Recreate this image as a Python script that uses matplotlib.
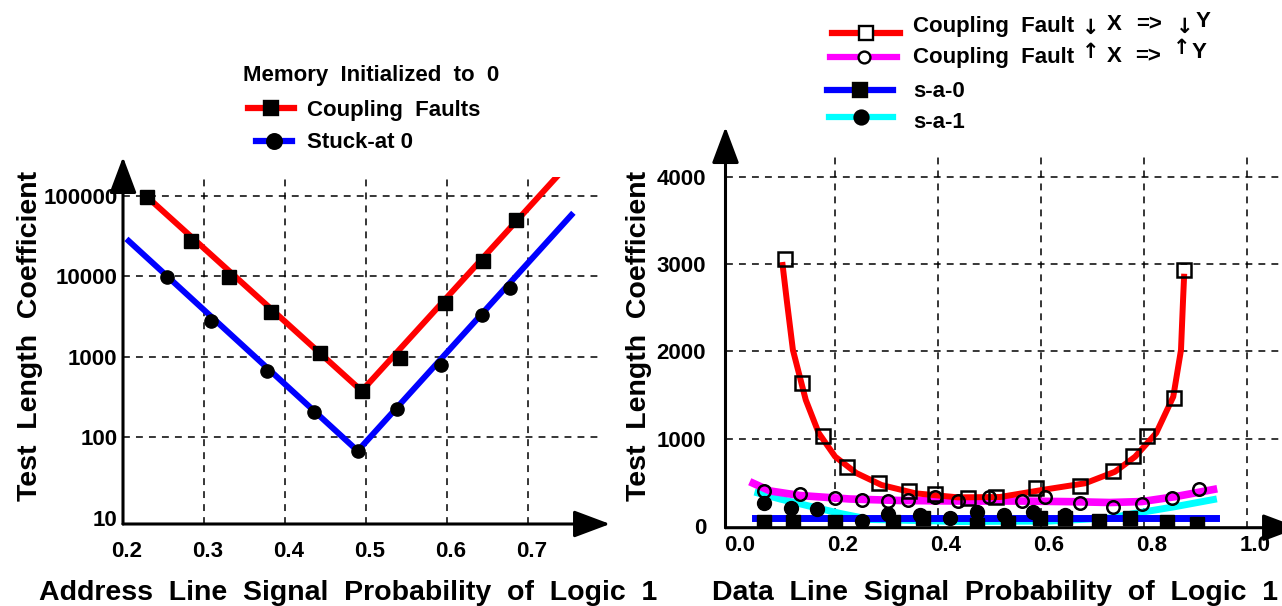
import matplotlib
matplotlib.use("Agg")
import matplotlib.pyplot as plt
from matplotlib.lines import Line2D
from matplotlib.ticker import NullLocator
from matplotlib.transforms import ScaledTranslation

plt.rcParams['font.family'] = ['Liberation Sans', 'DejaVu Sans']
plt.rcParams['font.weight'] = 'bold'

# ---- left panel: address line signal probability (log y) ----
addr_cf_x = [0.230, 0.284, 0.331, 0.383, 0.443, 0.495, 0.542, 0.598, 0.645, 0.686]
addr_cf_y = [96000, 27400, 9800, 3600, 1110, 377, 966, 4650, 15500, 49800]
addr_cf_line_x = [0.230, 0.495, 0.739]
addr_cf_line_y = [96000, 377, 185000]

addr_sa0_x = [0.254, 0.309, 0.378, 0.436, 0.490, 0.539, 0.593, 0.644, 0.678]
addr_sa0_y = [9770, 2780, 667, 206, 68, 225, 791, 3300, 7140]
addr_sa0_line_x = [0.207, 0.490, 0.754]
addr_sa0_line_y = [27400, 68, 57400]

addr_xticks = [0.2, 0.3, 0.4, 0.5, 0.6, 0.7]
addr_xlabels = ['0.2', '0.3', '0.4', '0.5', '0.6', '0.7']
addr_yticks = [10, 100, 1000, 10000, 100000]
addr_ylabels = ['10', '100', '1000', '10000', '100000']
addr_grid_x = [0.3, 0.4, 0.5, 0.6, 0.7]
addr_grid_y = [100, 1000, 10000, 100000]

# ---- right panel: data line signal probability ----
# coupling fault down X => down Y (red curve, open squares)
data_cfd_curve_x = [0.099, 0.107, 0.119, 0.144, 0.169, 0.201, 0.242, 0.291, 0.357, 0.439,
                    0.521, 0.602, 0.686, 0.744, 0.783, 0.824, 0.857, 0.872, 0.876, 0.878]
data_cfd_curve_y = [2989, 2589, 2017, 1445, 1068, 797, 610, 473, 378, 332,
                    336, 416, 493, 625, 797, 1068, 1483, 2017, 2589, 2855]
data_cfd_x = [0.103, 0.136, 0.178, 0.223, 0.287, 0.344, 0.395, 0.459, 0.514, 0.591,
              0.676, 0.740, 0.779, 0.807, 0.859, 0.877]
data_cfd_y = [3058, 1643, 1034, 682, 499, 405, 367, 321, 332, 435,
              465, 633, 805, 1034, 1472, 2932]

# coupling fault up X => up Y (magenta curve, open circles)
data_cfu_curve_x = [0.042, 0.075, 0.133, 0.230, 0.327, 0.444, 0.560, 0.666, 0.734, 0.796, 0.860, 0.935]
data_cfu_curve_y = [493, 405, 353, 313, 296, 290, 290, 282, 273, 284, 339, 422]
data_cfu_x = [0.063, 0.133, 0.201, 0.253, 0.303, 0.343, 0.395, 0.440, 0.500, 0.563,
              0.608, 0.676, 0.740, 0.796, 0.854, 0.906]
data_cfu_y = [405, 367, 328, 302, 290, 302, 339, 290, 332, 290,
              332, 264, 225, 256, 328, 427]

# s-a-1 (cyan curve, filled circles)
data_sa1_curve_x = [0.051, 0.094, 0.146, 0.210, 0.269, 0.443, 0.618, 0.734, 0.783, 0.860, 0.935]
data_sa1_curve_y = [382, 313, 239, 149, 79, 56, 61, 96, 149, 225, 307]
data_sa1_x = [0.063, 0.115, 0.166, 0.253, 0.303, 0.366, 0.424, 0.476, 0.529, 0.585, 0.647]
data_sa1_y = [264, 207, 195, 61, 138, 130, 92, 168, 130, 168, 130]

# s-a-0 (blue line, filled squares)
data_sa0_curve_x = [0.046, 0.939]
data_sa0_curve_y = [92, 92]
data_sa0_x = [0.063, 0.120, 0.201, 0.314, 0.372, 0.476, 0.537, 0.598, 0.647, 0.712,
              0.773, 0.844, 0.903]
data_sa0_y = [53, 53, 53, 53, 92, 16, 35, 92, 92, 61, 99, 53, 27]

data_xticks = [0.0, 0.2, 0.4, 0.6, 0.8, 1.0]
data_xlabels = ['0.0', '0.2', '0.4', '0.6', '0.8', '1.0']
data_yticks = [0, 1000, 2000, 3000, 4000]
data_ylabels = ['0', '1000', '2000', '3000', '4000']
data_grid_x = [0.2, 0.4, 0.6, 0.8, 1.0]
data_grid_y = [1000, 2000, 3000, 4000]

W, H = 1282, 606
fig = plt.figure(figsize=(W / 100, H / 100), dpi=100)


def fx(px):
    return px / W


def fy(py):
    return 1 - py / H


grid_kw = dict(color='black', lw=1.1, ls=(0, (4.5, 4)), zorder=1)
arrow_kw = dict(arrowstyle='-|>,head_length=0.4,head_width=0.15', lw=2.2,
                color='black', mutation_scale=56, shrinkA=0, shrinkB=0)


def style_axes(ax, tip_x, tip_y, xpad, ypad, shift_px):
    for s in ax.spines.values():
        s.set_visible(False)
    ax.tick_params(length=0, labelsize=16)
    ax.tick_params(axis='x', pad=xpad)
    ax.tick_params(axis='y', pad=ypad)
    ax.annotate('', xy=(0, tip_y), xytext=(0, 0), xycoords='axes fraction',
                arrowprops=arrow_kw, annotation_clip=False)
    ax.annotate('', xy=(tip_x, 0), xytext=(0, 0), xycoords='axes fraction',
                arrowprops=arrow_kw, annotation_clip=False)
    off = ScaledTranslation(shift_px / 100, 0, fig.dpi_scale_trans)
    for lab in ax.get_xticklabels():
        lab.set_transform(lab.get_transform() + off)


# ---------------- left panel ----------------
ax1 = fig.add_axes([fx(123), fy(524), (598 - 123) / W, (524 - 177) / H])
ax1.set_yscale('log')
ax1.set_xlim(0.2, 0.7869)
ax1.set_ylim(10 ** 0.9256, 10 ** 5.2308)
for x in addr_grid_x:
    ax1.axvline(x, **grid_kw)
for y in addr_grid_y:
    ax1.axhline(y, **grid_kw)

ax1.plot(addr_cf_line_x, addr_cf_line_y, color='#ff0000', lw=4.3, zorder=3)
ax1.plot(addr_sa0_line_x, addr_sa0_line_y, color='#0000ff', lw=4.3, zorder=3)
ax1.plot(addr_cf_x, addr_cf_y, 's', color='black', ms=9.5, zorder=4)
ax1.plot(addr_sa0_x, addr_sa0_y, 'o', color='black', ms=9.5, zorder=4)

ax1.set_xticks(addr_xticks)
ax1.set_xticklabels(addr_xlabels)
ax1.set_yticks(addr_yticks)
ax1.set_yticklabels(addr_ylabels)
ax1.yaxis.set_minor_locator(NullLocator())
style_axes(ax1, 1.0253, 1.0576, 12, 4, 4)

# ---------------- right panel ----------------
ax2 = fig.add_axes([fx(725.5), fy(527.7), (W - 725.5) / W, (527.7 - 155) / H])
ax2.set_xlim(-0.0118, 1.068)
ax2.set_ylim(-15, 4247)
for x in data_grid_x:
    ax2.axvline(x, **grid_kw)
for y in data_grid_y:
    ax2.axhline(y, **grid_kw)

ax2.plot(data_sa1_curve_x, data_sa1_curve_y, color='#00ffff', lw=5, zorder=2)
ax2.plot(data_sa0_curve_x, data_sa0_curve_y, color='#0000ff', lw=5, zorder=2.2)
ax2.plot(data_cfu_curve_x, data_cfu_curve_y, color='#ff00ff', lw=5.5, zorder=2.4)
ax2.plot(data_cfd_curve_x, data_cfd_curve_y, color='#ff0000', lw=4.3, zorder=2.6)

ax2.plot(data_sa0_x, data_sa0_y, 's', color='black', ms=10, zorder=4)
ax2.plot(data_sa1_x, data_sa1_y, 'o', color='black', ms=10, zorder=4)
ax2.plot(data_cfu_x, data_cfu_y, 'o', mfc='none', mec='black', mew=1.8, ms=9, zorder=5)
ax2.plot(data_cfd_x, data_cfd_y, 's', mfc='none', mec='black', mew=1.8, ms=10, zorder=5)

ax2.set_xticks(data_xticks)
ax2.set_xticklabels(data_xlabels)
ax2.set_yticks(data_yticks)
ax2.set_yticklabels(data_ylabels)
style_axes(ax2, 1.0306, 1.075, 5.5, 14, 8)

# ---------------- axis titles ----------------
lab_kw = dict(fontsize=20.5, fontweight='bold')
fig.text(fx(348), fy(600), 'Address  Line  Signal  Probability  of  Logic  1',
         ha='center', va='baseline', **lab_kw)
fig.text(fx(712), fy(600), 'Data  Line  Signal  Probability  of  Logic  1',
         ha='left', va='baseline', **lab_kw)
fig.text(fx(30), fy(336), 'Test  Length  Coefficient', rotation=90,
         ha='center', va='center', **lab_kw)
fig.text(fx(639), fy(336), 'Test  Length  Coefficient', rotation=90,
         ha='center', va='center', **lab_kw)


# ---------------- hand placed legends ----------------
def legend_entry(x1, x2, y, color, marker, ms, face):
    fig.add_artist(Line2D([fx(x1), fx(x2)], [fy(y), fy(y)], color=color, lw=4.5,
                          transform=fig.transFigure))
    fig.add_artist(Line2D([fx((x1 + x2) / 2)], [fy(y)], marker=marker, ms=ms,
                          mfc=face, mec='black', mew=1.7, ls='none',
                          transform=fig.transFigure))


def arrow_glyph(x, y, glyph):
    fig.text(fx(x), fy(y), glyph, ha='center', va='center', fontsize=15,
             family=['DejaVu Sans'], fontweight='bold')


leg_fs = 16
fig.text(fx(371), fy(81), 'Memory  Initialized  to  0', ha='center', va='baseline', fontsize=leg_fs)
legend_entry(248, 294, 108, '#ff0000', 's', 10.5, 'black')
fig.text(fx(307), fy(116), 'Coupling  Faults', ha='left', va='baseline', fontsize=leg_fs)
legend_entry(256, 292, 141, '#0000ff', 'o', 10.5, 'black')
fig.text(fx(307), fy(148), 'Stuck-at 0', ha='left', va='baseline', fontsize=leg_fs)

legend_entry(832, 900, 33, '#ff0000', 's', 9.5, 'white')
fig.text(fx(913), fy(32), 'Coupling  Fault', ha='left', va='baseline', fontsize=leg_fs)
arrow_glyph(1091, 28, '↓')
fig.text(fx(1114), fy(30), 'X', ha='center', va='baseline', fontsize=leg_fs)
fig.text(fx(1149), fy(30), '=>', ha='center', va='baseline', fontsize=leg_fs)
arrow_glyph(1185, 27, '↓')
fig.text(fx(1203), fy(27), 'Y', ha='center', va='baseline', fontsize=leg_fs)

legend_entry(830, 897, 57, '#ff00ff', 'o', 8.5, 'white')
fig.text(fx(913), fy(63), 'Coupling  Fault', ha='left', va='baseline', fontsize=leg_fs)
arrow_glyph(1091, 52, '↑')
fig.text(fx(1114), fy(62), 'X', ha='center', va='baseline', fontsize=leg_fs)
fig.text(fx(1148), fy(62), '=>', ha='center', va='baseline', fontsize=leg_fs)
arrow_glyph(1182, 48, '↑')
fig.text(fx(1199), fy(58), 'Y', ha='center', va='baseline', fontsize=leg_fs)

legend_entry(827, 893, 90, '#0000ff', 's', 10, 'black')
fig.text(fx(913), fy(97), 's-a-0', ha='left', va='baseline', fontsize=leg_fs)
legend_entry(829, 893, 117, '#00ffff', 'o', 10, 'black')
fig.text(fx(913), fy(127.5), 's-a-1', ha='left', va='baseline', fontsize=leg_fs)

fig.savefig('out.png', dpi=100)
